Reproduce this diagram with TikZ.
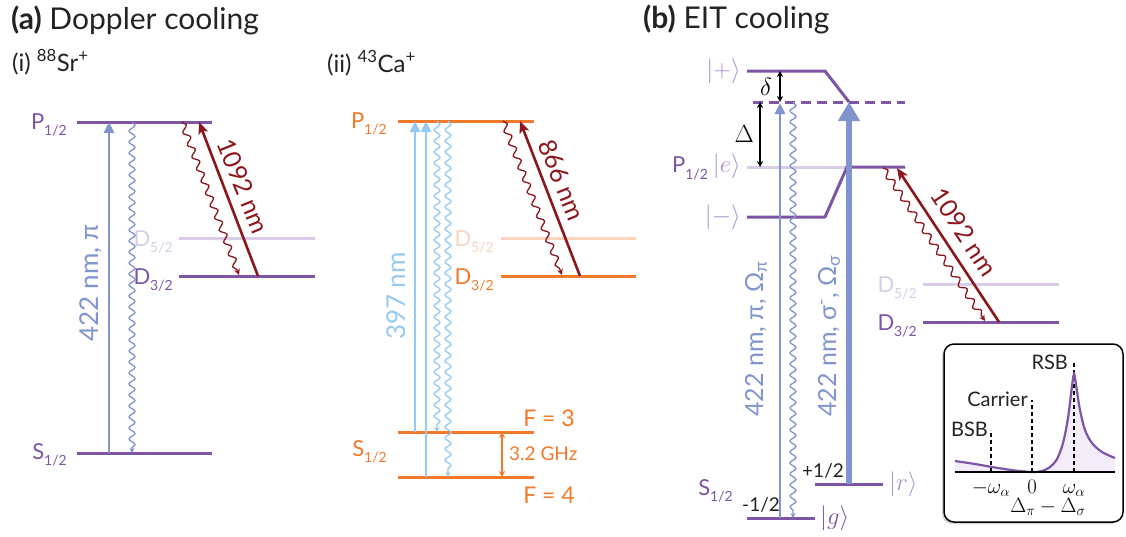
\documentclass[tikz,border=0pt]{standalone}
\usepackage[no-math]{fontspec}
\setmainfont{Lato}
\usetikzlibrary{arrows.meta,decorations.pathmorphing,shadows}
\definecolor{cpurple}{RGB}{125,85,165}
\definecolor{clpurple}{RGB}{216,204,230}
\definecolor{cmpurple}{RGB}{170,145,205}
\definecolor{cblue}{RGB}{128,148,206}
\definecolor{clblue}{RGB}{150,202,240}
\definecolor{cred}{RGB}{140,22,28}
\definecolor{corange}{RGB}{240,122,42}
\definecolor{clorange}{RGB}{250,212,188}
\definecolor{cfill}{RGB}{242,237,248}
\definecolor{ctext}{RGB}{35,35,35}
\newcommand\lvl[2]{#1\raisebox{-0.55ex}{\fontsize{14}{14}\selectfont #2}}
\begin{document}
\begin{tikzpicture}[x=1pt,y=-1pt,
  level/.style={line width=3pt, line cap=butt},
  lbl/.style={inner sep=0, anchor=base east, font=\fontsize{22}{24}\selectfont},
  ket/.style={inner sep=0, font=\fontsize{25}{28}\selectfont},
  pump/.style={line width=2.8pt, -{Triangle[length=11pt,width=10pt]}},
  redpump/.style={line width=2.6pt, cred, -{Stealth[length=12pt,width=10pt,inset=3pt]}},
  wavy/.style={line width=1.3pt, decorate, decoration={snake, amplitude=3pt, segment length=11pt, post length=5pt}, -{Stealth[length=5pt,width=5pt]}},
  redwavy/.style={line width=1.3pt, cred, decorate, decoration={snake, amplitude=3pt, segment length=13pt, post length=5pt}, -{Stealth[length=6pt,width=6pt]}},
  dbl/.style={line width=1.4pt, {Stealth[length=6pt,width=6pt]}-{Stealth[length=6pt,width=6pt]}},
  dsh/.style={line width=1.7pt, dash pattern=on 4pt off 3pt},
  rot/.style={inner sep=0, rotate=90, font=\fontsize{26}{28}\selectfont},
  slant/.style={inner sep=0, font=\fontsize{25}{28}\selectfont, cred},
  inl/.style={inner sep=0, font=\fontsize{20}{22}\selectfont},
  insm/.style={inner sep=0, anchor=base, font=\fontsize{21}{22}\selectfont}
]
\useasboundingbox (0,0) rectangle (1126,536);

% ---------------- titles
\node[inner sep=0, anchor=base west, font=\fontsize{30}{34}\selectfont, text=ctext] (ta) at (11,29) {\textbf{(a)} Doppler cooling};
\node[inner sep=0, anchor=base west, font=\fontsize{30}{34}\selectfont, text=ctext] (tb) at (643,28) {\textbf{(b)} EIT cooling};
\node[inner sep=0, anchor=base west, font=\fontsize{24}{26}\selectfont, text=ctext] (ti) at (12,71) {(i) \textsuperscript{88}Sr\textsuperscript{+}};
\node[inner sep=0, anchor=base west, font=\fontsize{24}{26}\selectfont, text=ctext] (tii) at (327,72) {(ii) \textsuperscript{43}Ca\textsuperscript{+}};

% ---------------- (i) Sr
\coordinate (SrPa) at (77,122); \coordinate (SrPb) at (212,122);
\coordinate (SrSa) at (77,453); \coordinate (SrSb) at (212,453);
\coordinate (SrD5a) at (179,238); \coordinate (SrD5b) at (315,238);
\coordinate (SrD3a) at (179,276); \coordinate (SrD3b) at (315,276);
\draw[level, clpurple] (SrD5a) -- (SrD5b);
\draw[level, cpurple] (SrPa) -- (SrPb);
\draw[level, cpurple] (SrSa) -- (SrSb);
\draw[level, cpurple] (SrD3a) -- (SrD3b);
\node[lbl, text=cpurple] (SrPl) at (67,129) {\lvl{P}{1/2}};
\node[lbl, text=cpurple] (SrSl) at (67,459) {\lvl{S}{1/2}};
\node[lbl, text=clpurple] (SrD5l) at (173,246) {\lvl{D}{5/2}};
\node[lbl, text=cpurple] (SrD3l) at (173,284) {\lvl{D}{3/2}};
\coordinate (Sr1s) at (109,453); \coordinate (Sr1e) at (109,122);
\draw[pump, cblue] (Sr1s) -- (Sr1e);
\coordinate (Sr2s) at (132,122); \coordinate (Sr2e) at (132,453);
\draw[wavy, cblue] (Sr2s) -- (Sr2e);
\node[rot, text=cblue] (Sr422) at (91,283) {422 nm, π};
\coordinate (Sr3s) at (258,276); \coordinate (Sr3e) at (199,122);
\draw[redpump] (Sr3s) -- (Sr3e);
\coordinate (Sr4s) at (182,122); \coordinate (Sr4e) at (239,275);
\draw[redwavy] (Sr4s) -- (Sr4e);
\node[slant, rotate=-68] (Sr1092) at (243,186) {1092 nm};

% ---------------- (ii) Ca
\coordinate (CaPa) at (398,121); \coordinate (CaPb) at (534,121);
\coordinate (CaD5a) at (501,238); \coordinate (CaD5b) at (636,238);
\coordinate (CaD3a) at (501,276); \coordinate (CaD3b) at (636,276);
\coordinate (CaF3a) at (398,432); \coordinate (CaF3b) at (534,432);
\coordinate (CaF4a) at (398,477); \coordinate (CaF4b) at (534,477);
\draw[level, clorange] (CaD5a) -- (CaD5b);
\draw[level, corange] (CaPa) -- (CaPb);
\draw[level, corange] (CaD3a) -- (CaD3b);
\draw[level, corange] (CaF3a) -- (CaF3b);
\draw[level, corange] (CaF4a) -- (CaF4b);
\node[lbl, text=corange] (CaPl) at (387,128) {\lvl{P}{1/2}};
\node[lbl, text=corange] (CaSl) at (387,456) {\lvl{S}{1/2}};
\node[lbl, text=clorange] (CaD5l) at (494,246) {\lvl{D}{5/2}};
\node[lbl, text=corange] (CaD3l) at (494,284) {\lvl{D}{3/2}};
\coordinate (Ca1s) at (415,432); \coordinate (Ca1e) at (415,121);
\coordinate (Ca2s) at (426,477); \coordinate (Ca2e) at (426,121);
\draw[pump, clblue] (Ca1s) -- (Ca1e);
\draw[pump, clblue] (Ca2s) -- (Ca2e);
\coordinate (Ca3s) at (437,121); \coordinate (Ca3e) at (437,432);
\coordinate (Ca4s) at (448,121); \coordinate (Ca4e) at (448,477);
\draw[wavy, clblue] (Ca3s) -- (Ca3e);
\draw[wavy, clblue] (Ca4s) -- (Ca4e);
\node[rot, text=clblue] (Ca397) at (396,296) {397 nm};
\coordinate (Ca5s) at (580,276); \coordinate (Ca5e) at (520,121);
\draw[redpump] (Ca5s) -- (Ca5e);
\coordinate (Ca6s) at (503,121); \coordinate (Ca6e) at (562,275);
\draw[redwavy] (Ca6s) -- (Ca6e);
\node[slant, rotate=-68] (Ca866) at (562,180) {866 nm};
\coordinate (CaGa) at (502,432); \coordinate (CaGb) at (502,477);
\draw[dbl, corange] (CaGa) -- (CaGb);
\node[inner sep=0, anchor=west, font=\fontsize{19}{20}\selectfont, text=corange] (CaGHz) at (509,454) {3.2 GHz};
\node[inner sep=0, font=\fontsize{23}{24}\selectfont, text=corange] (CaF3) at (549,418) {F = 3};
\node[inner sep=0, font=\fontsize{23}{24}\selectfont, text=corange] (CaF4) at (549,495) {F = 4};

% ---------------- (b) EIT
\coordinate (Bp1) at (747,71); \coordinate (Bp2) at (825,71); \coordinate (Bp3) at (849,102);
\coordinate (Bda) at (753,102); \coordinate (Bdb) at (905,102);
\coordinate (Bea) at (747,167); \coordinate (Beb) at (847,167); \coordinate (Bec) at (905,167);
\coordinate (Bm1) at (747,217); \coordinate (Bm2) at (825,217);
\coordinate (Bga) at (747,518); \coordinate (Bgb) at (815,518);
\coordinate (Bra) at (815,484); \coordinate (Brb) at (883,484);
\coordinate (BD5a) at (923,284); \coordinate (BD5b) at (1059,284);
\coordinate (BD3a) at (923,322); \coordinate (BD3b) at (1059,322);
\draw[level, clpurple] (Bea) -- (Beb);
\draw[level, clpurple] (BD5a) -- (BD5b);
\draw[level, cpurple, line join=round] (Bp1) -- (Bp2) -- (Bp3);
\draw[level, cpurple, line join=round] (Bm1) -- (Bm2) -- (Beb) -- (Bec);
\draw[level, cpurple, dash pattern=on 10pt off 6pt] (Bda) -- (Bdb);
\draw[level, cpurple] (Bga) -- (Bgb);
\draw[level, cpurple] (Bra) -- (Brb);
\draw[level, cpurple] (BD3a) -- (BD3b);
\node[ket, anchor=east, text=cmpurple] (Bpl) at (741,71) {$|{+}\rangle$};
\node[ket, anchor=east, text=cmpurple] (Bml) at (741,217) {$|{-}\rangle$};
\node[ket, anchor=east] (Bel) at (741,167) {\textcolor{cpurple}{\fontsize{22}{24}\selectfont\lvl{P}{1/2}}\hspace{5pt}\textcolor{cmpurple}{$|e\rangle$}};
\node[lbl, text=cpurple] (BSl) at (733,495) {\lvl{S}{1/2}};
\node[inner sep=0, anchor=base west, font=\fontsize{19}{20}\selectfont, text=ctext] (Bmh) at (742,511) {-1/2};
\node[inner sep=0, anchor=base west, font=\fontsize{19}{20}\selectfont, text=ctext] (Bph) at (802,477) {+1/2};
\node[ket, anchor=west, text=cpurple] (Bgl) at (820,518) {$|g\rangle$};
\node[ket, anchor=west, text=cmpurple] (Brl) at (889,484) {$|r\rangle$};
\node[lbl, text=clpurple] (BD5l) at (917,292) {\lvl{D}{5/2}};
\node[lbl, text=cpurple] (BD3l) at (917,330) {\lvl{D}{3/2}};
% detunings
\coordinate (Bdt1) at (780,71); \coordinate (Bdt2) at (780,102);
\draw[dbl] (Bdt1) -- (Bdt2);
\node[ket, anchor=east] (Bdl) at (772,87) {$\delta$};
\coordinate (BDt1) at (760,102); \coordinate (BDt2) at (760,167);
\draw[dbl] (BDt1) -- (BDt2);
\node[ket, anchor=east] (BDl) at (754,134) {$\Delta$};
% lasers
\coordinate (Bpis) at (780,518); \coordinate (Bpie) at (780,103);
\draw[pump, cblue] (Bpis) -- (Bpie);
\coordinate (Bsgs) at (849,484); \coordinate (Bsge) at (849,102);
\draw[line width=5.5pt, cblue, -{Triangle[length=19pt,width=21pt]}] (Bsgs) -- (Bsge);
\coordinate (Bws) at (793,102); \coordinate (Bwe) at (793,518);
\draw[wavy, cblue] (Bws) -- (Bwe);
\node[rot, anchor=west, font=\fontsize{25}{28}\selectfont, text=cblue] (Bpil) at (756,417) {422 nm, π, Ω\textsubscript{π}};
\node[rot, anchor=west, font=\fontsize{25}{28}\selectfont, text=cblue] (Bsgl) at (829,417) {422 nm, σ\textsuperscript{-}, Ω\textsubscript{σ}};
\coordinate (Brs) at (999,322); \coordinate (Bre) at (897,168);
\draw[redpump] (Brs) -- (Bre);
\coordinate (Brws) at (883,168); \coordinate (Brwe) at (985,321);
\draw[redwavy] (Brws) -- (Brwe);
\node[slant, rotate=-56.3] (B1092) at (964,232) {1092 nm};

% ---------------- inset
\draw[line width=1.5pt, rounded corners=10pt, fill=white,
      drop shadow={shadow xshift=-2pt, shadow yshift=-2pt, opacity=0.35}]
      (944,344) rectangle (1123,522);
\coordinate (Ax1) at (955,472); \coordinate (Ax2) at (1115,472);
\fill[cfill] plot[smooth, tension=0.55] coordinates {(955,461) (975,464) (995,467.5) (1015,470.5) (1032,472) (1042,471) (1050,467) (1057,459) (1063,443) (1068,418) (1071.5,390) (1074,374) (1076.5,388) (1080,410) (1085,430) (1092,443) (1102,452) (1115,458)} -- (Ax2) -- (Ax1) -- cycle;
\coordinate (Bb1) at (991,472); \coordinate (Bb2) at (991,430);
\coordinate (Bc1) at (1032,472); \coordinate (Bc2) at (1032,400);
\coordinate (Br1) at (1074,472); \coordinate (Br2) at (1074,362);
\draw[dsh] (Bb1) -- (Bb2);
\draw[dsh] (Bc1) -- (Bc2);
\draw[dsh] (Br1) -- (Br2);
\draw[line width=2.2pt, cpurple] plot[smooth, tension=0.55] coordinates {(955,461) (975,464) (995,467.5) (1015,470.5) (1032,472) (1042,471) (1050,467) (1057,459) (1063,443) (1068,418) (1071.5,390) (1074,374) (1076.5,388) (1080,410) (1085,430) (1092,443) (1102,452) (1115,458)};
\draw[line width=1.7pt] (Ax1) -- (Ax2);
\node[inl, anchor=base east, text=ctext] (Lbsb) at (988,436) {BSB};
\node[inl, anchor=base east, text=ctext] (Lcar) at (1028,406) {Carrier};
\node[inl, anchor=base east, text=ctext] (Lrsb) at (1068,369) {RSB};
\node[insm] (Tm) at (991,493) {$-\omega_\alpha$};
\node[insm] (T0) at (1032,493) {$0$};
\node[insm] (Tp) at (1074,493) {$\omega_\alpha$};
\node[insm] (Tx) at (1048,512) {$\Delta_\pi-\Delta_\sigma$};
\end{tikzpicture}
\end{document}
